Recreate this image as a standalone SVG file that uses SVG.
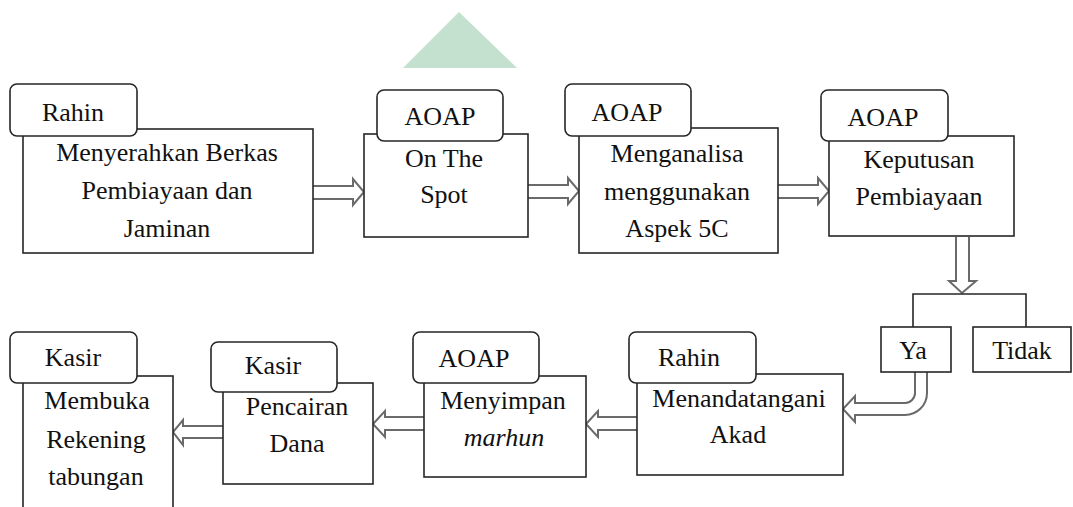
<svg xmlns="http://www.w3.org/2000/svg" width="1073" height="507" viewBox="0 0 1073 507">
<style>
.box{fill:#fff;stroke:#262626;stroke-width:1.6}
.tab{fill:#fff;stroke:#262626;stroke-width:1.6}
.arr{fill:#fff;stroke:#6a6a6a;stroke-width:2;stroke-linejoin:miter}
.ln{fill:none;stroke:#262626;stroke-width:1.6}
text{font-family:'Liberation Serif','Times New Roman',serif;font-size:26px;fill:#111;text-anchor:middle}
.it{font-style:italic}
</style>
<rect width="1073" height="507" fill="#fff"/>
<polygon points="403,68 459,12 517,68" fill="#c4e1cf"/>

<g id="connectors">
<path class="arr" d="M313,186 H353 V179 L364,192 L353,205 V199 H313"/>
<path class="arr" d="M528,185 H568 V178 L579,191 L568,204 V198 H528"/>
<path class="arr" d="M778,185 H818 V178 L829,191 L818,204 V198 H778"/>
<path class="arr" d="M956,237 V281 H949 L962,293 L976,281 H969 V237"/>
<path class="ln" d="M913,327 V294 H1026 V327"/>
<path class="arr" d="M915,372 V393 A10,10 0 0 1 905,403 H855 V396 L843,409 L855,422 V415 H905 A22,22 0 0 0 927,393 V372"/>
<path class="arr" d="M637,417 H598 V411 L586,424 L598,437 V430 H637"/>
<path class="arr" d="M424,417 H385 V411 L373,424 L385,437 V430 H424"/>
<path class="arr" d="M223,426 H183 V420 L173,432 L183,445 V438 H223"/>
</g>

<g id="n1">
<rect class="box" x="23" y="129" width="290" height="124"/>
<rect class="tab" x="10" y="84" width="127" height="52" rx="7"/>
<text x="73" y="121">Rahin</text>
<text x="167" y="161">Menyerahkan Berkas</text>
<text x="167" y="199">Pembiayaan dan</text>
<text x="167" y="237">Jaminan</text>
</g>

<g id="n2">
<rect class="box" x="364" y="134" width="164" height="103"/>
<rect class="tab" x="377" y="90" width="126" height="51" rx="7"/>
<text x="440" y="125">AOAP</text>
<text x="444" y="167">On The</text>
<text x="444" y="203">Spot</text>
</g>

<g id="n3">
<rect class="box" x="579" y="128" width="199" height="125"/>
<rect class="tab" x="565" y="84" width="126" height="52" rx="7"/>
<text x="627" y="121">AOAP</text>
<text x="677" y="162">Menganalisa</text>
<text x="677" y="200">menggunakan</text>
<text x="677" y="237">Aspek 5C</text>
</g>

<g id="n4">
<rect class="box" x="829" y="136" width="185" height="100"/>
<rect class="tab" x="821" y="90" width="127" height="51" rx="7"/>
<text x="883" y="126">AOAP</text>
<text x="919" y="168">Keputusan</text>
<text x="919" y="205">Pembiayaan</text>
</g>

<g id="ya">
<rect class="box" x="881" y="327" width="70" height="45"/>
<text x="913" y="359">Ya</text>
</g>

<g id="tidak">
<rect class="box" x="973" y="327" width="98" height="45"/>
<text x="1022" y="359">Tidak</text>
</g>

<g id="n5">
<rect class="box" x="637" y="374" width="206" height="101"/>
<rect class="tab" x="629" y="332" width="127" height="51" rx="7"/>
<text x="689" y="366">Rahin</text>
<text x="739" y="407">Menandatangani</text>
<text x="738" y="443">Akad</text>
</g>

<g id="n6">
<rect class="box" x="424" y="376" width="162" height="101"/>
<rect class="tab" x="413" y="332" width="126" height="51" rx="7"/>
<text x="474" y="367">AOAP</text>
<text x="503" y="409">Menyimpan</text>
<text x="504" y="446" class="it">marhun</text>
</g>

<g id="n7">
<rect class="box" x="223" y="383" width="150" height="101"/>
<rect class="tab" x="211" y="342" width="126" height="50" rx="7"/>
<text x="273" y="374">Kasir</text>
<text x="297" y="415">Pencairan</text>
<text x="297" y="452">Dana</text>
</g>

<g id="n8">
<rect class="box" x="23" y="376" width="150" height="140"/>
<rect class="tab" x="10" y="332" width="127" height="51" rx="7"/>
<text x="73" y="366">Kasir</text>
<text x="97" y="409">Membuka</text>
<text x="96" y="448">Rekening</text>
<text x="96" y="485">tabungan</text>
</g>
</svg>
